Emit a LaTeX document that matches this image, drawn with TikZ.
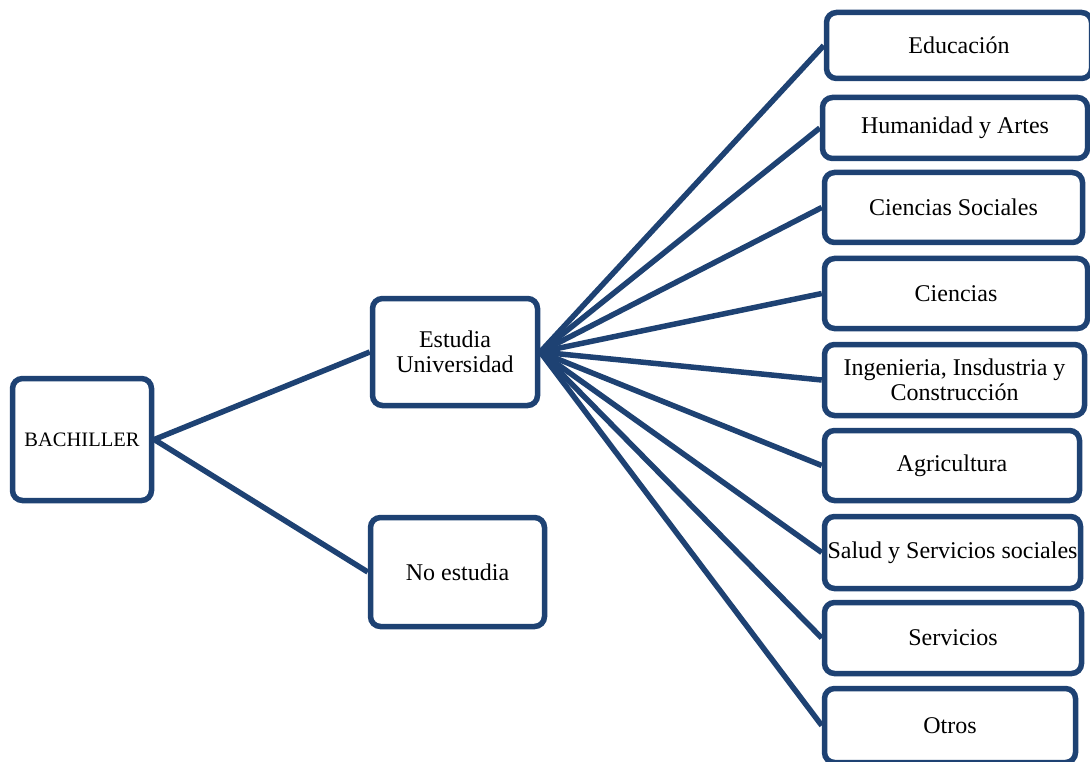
\documentclass[tikz,border=0pt]{standalone}
\usepackage{fontspec}
\setmainfont{Liberation Serif}
\definecolor{boxblue}{HTML}{1E4273}
\begin{document}
\begin{tikzpicture}[x=1pt,y=-1pt,
  box/.style={draw=boxblue, line width=5.5pt, rounded corners=10pt, fill=white,
    align=center, inner sep=0pt, font=\fontsize{24}{25}\selectfont, text=black},
  link/.style={draw=boxblue, line width=5.5pt}]
\useasboundingbox (0,0) rectangle (1090,762);
% left nodes
\node[box, minimum width=139pt, minimum height=122pt, font=\fontsize{20.5}{22}\selectfont] (bach) at (82,439.5) {BACHILLER};
\node[box, minimum width=165pt, minimum height=107pt] (est) at (455,352) {Estudia\\Universidad};
\node[box, minimum width=174pt, minimum height=109pt] (noest) at (457.5,572) {No estudia};
% right nodes
\node[box, minimum width=265pt, minimum height=66pt] (edu) at (959,45.5) {Educación};
\node[box, minimum width=265pt, minimum height=61pt] (hum) at (955,128) {Humanidad y Artes};
\node[box, minimum width=258pt, minimum height=70pt] (cs) at (953.5,207.5) {Ciencias Sociales};
\node[box, minimum width=263pt, minimum height=70pt] (cie) at (956,293.5) {Ciencias};
\node[box, minimum width=260pt, minimum height=71pt] (ing) at (954.5,380) {Ingenieria, Insdustria y\\Construcción};
\node[box, minimum width=255pt, minimum height=70pt] (agr) at (952,465.5) {Agricultura};
\node[box, minimum width=256pt, minimum height=72pt] (sal) at (952.5,552.5) {Salud y Servicios sociales};
\node[box, minimum width=257pt, minimum height=71pt] (ser) at (953,638) {Servicios};
\node[box, minimum width=251pt, minimum height=74pt] (otr) at (950,725.5) {Otros};
% connectors
\path[link] (bach.east) -- (est.west);
\path[link] (bach.east) -- (noest.west);
\foreach \t in {edu,hum,cs,cie,ing,agr,sal,ser,otr}{
  \path[link] (est.east) -- (\t.west);
}
\end{tikzpicture}
\end{document}
